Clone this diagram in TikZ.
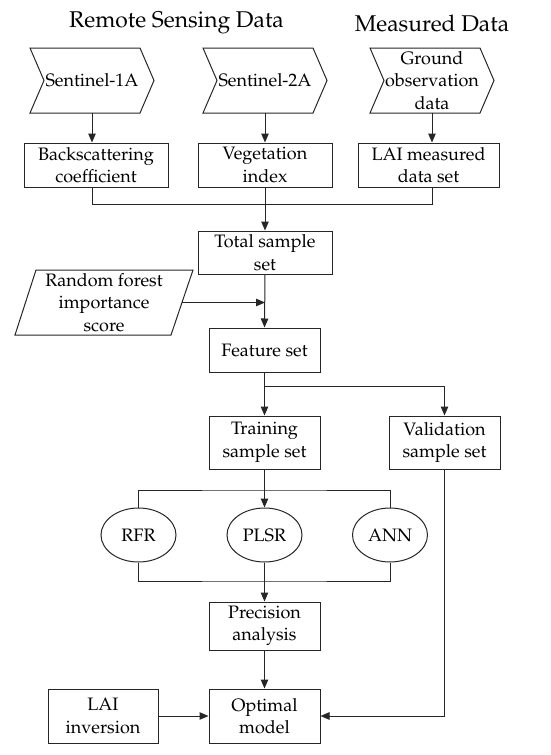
\documentclass[tikz,border=0pt]{standalone}
\usepackage[T1]{fontenc}
\usepackage{mathpazo}
\usepackage{tikz}
\usetikzlibrary{shapes.geometric,arrows.meta,calc}
\newcommand{\bodyfont}{\fontsize{18}{22.5}\selectfont}

\begin{document}
\begin{tikzpicture}[x=1pt, y=-1pt, >={Triangle[length=9pt,width=7.5pt]},
  line/.style={draw=black!85, line width=1pt},
  box/.style={line, rectangle, align=center, inner sep=0pt, font=\bodyfont},
  chev/.style={align=center, minimum height=65pt, inner sep=0pt, font=\bodyfont},
  model/.style={line, ellipse, minimum width=75pt, minimum height=54pt, inner sep=0pt, font=\bodyfont},
  title/.style={font=\fontsize{22.8}{27}\selectfont}]
  \useasboundingbox (0,0) rectangle (550,755);

  % Data sources
  \node[title] (rsd) at (176.5,23) {Remote Sensing Data};
  \node[title] (md) at (432,23) {Measured Data};
  \node[chev] (s1) at (92,80.5) {Sentinel-1A};
  \node[chev] (s2) at (265,80.5) {Sentinel-2A};
  \node[chev] (go) at (432,80.5) {Ground\\observation\\data};
  \foreach \n in {s1,s2,go}
    \draw[line] ([shift={(-62,-32.5)}]\n.center) -- ([shift={(48,-32.5)}]\n.center)
      -- ([shift={(62,0)}]\n.center) -- ([shift={(48,32.5)}]\n.center)
      -- ([shift={(-62,32.5)}]\n.center) -- ([shift={(-48,0)}]\n.center) -- cycle;

  % Derived data
  \node[box, minimum width=144pt, minimum height=44pt] (bsc) at (96,165) {Backscattering\\coefficient};
  \node[box, minimum width=134pt, minimum height=44pt] (vi) at (265,165) {Vegetation\\index};
  \node[box, minimum width=141pt, minimum height=44pt] (lms) at (428.5,165) {LAI measured\\data set};
  \node[box, minimum width=134pt, minimum height=43pt] (tss) at (265,252.5) {Total sample\\set};
  \node[align=center, inner sep=0pt, font=\bodyfont, minimum width=156pt, minimum height=65pt] (rf) at (104,302.5) {Random forest\\importance\\score};
  \draw[line] ([shift={(-68,-32.5)}]rf.center) -- ([shift={(89,-32.5)}]rf.center)
    -- ([shift={(67,32.5)}]rf.center) -- ([shift={(-89,32.5)}]rf.center) -- cycle;
  \node[box, minimum width=111pt, minimum height=44pt] (fs) at (264.5,350) {Feature set};

  % Modelling
  \node[box, minimum width=111pt, minimum height=53pt] (trs) at (264.5,442.5) {Training\\sample set};
  \node[box, minimum width=111pt, minimum height=53pt] (vss) at (444.5,442.5) {Validation\\sample set};
  \node[model] (rfr) at (138.5,535) {RFR};
  \node[model] (plsr) at (264.5,535) {PLSR};
  \node[model] (ann) at (390,535) {ANN};
  \node[box, minimum width=111pt, minimum height=48pt] (pa) at (264.5,626) {Precision\\analysis};
  \node[box, minimum width=111pt, minimum height=54pt] (om) at (264.5,716) {Optimal\\model};
  \node[box, minimum width=110pt, minimum height=54pt] (lai) at (103,716) {LAI\\inversion};

  % Connectors
  \coordinate (m1) at (265,204);
  \coordinate (m2) at (264.5,386);
  \coordinate (m3) at (264.5,490);
  \coordinate (m4) at (264.5,581);
  \draw[line,->] (s1.south) -- (s1.south |- bsc.north);
  \draw[line,->] (s2.south) -- (vi.north);
  \draw[line,->] (go.south) -- (go.south |- lms.north);
  \draw[line] (s1.south |- bsc.south) -- (s1.south |- m1) -- (go.south |- m1) -- (go.south |- lms.south);
  \draw[line,->] (vi.south) -- (tss.north);
  \draw[line,->] (tss.south) -- (fs.north);
  \draw[line,->] (rf.east) -- (rf.east -| tss.south);
  \draw[line,->] (fs.south) -- (trs.north);
  \draw[line,->] (m2) -| (vss.north);
  \draw[line,->] (trs.south) -- (plsr.north);
  \draw[line] (rfr.north) |- (m3) -| (ann.north);
  \draw[line] (rfr.south) |- (m4) -| (ann.south);
  \draw[line,->] (plsr.south) -- (pa.north);
  \draw[line,->] (pa.south) -- (om.north);
  \draw[line,->] (lai.east) -- (om.west);
  \draw[line,->] (vss.south) |- (om.east);
\end{tikzpicture}
\end{document}
